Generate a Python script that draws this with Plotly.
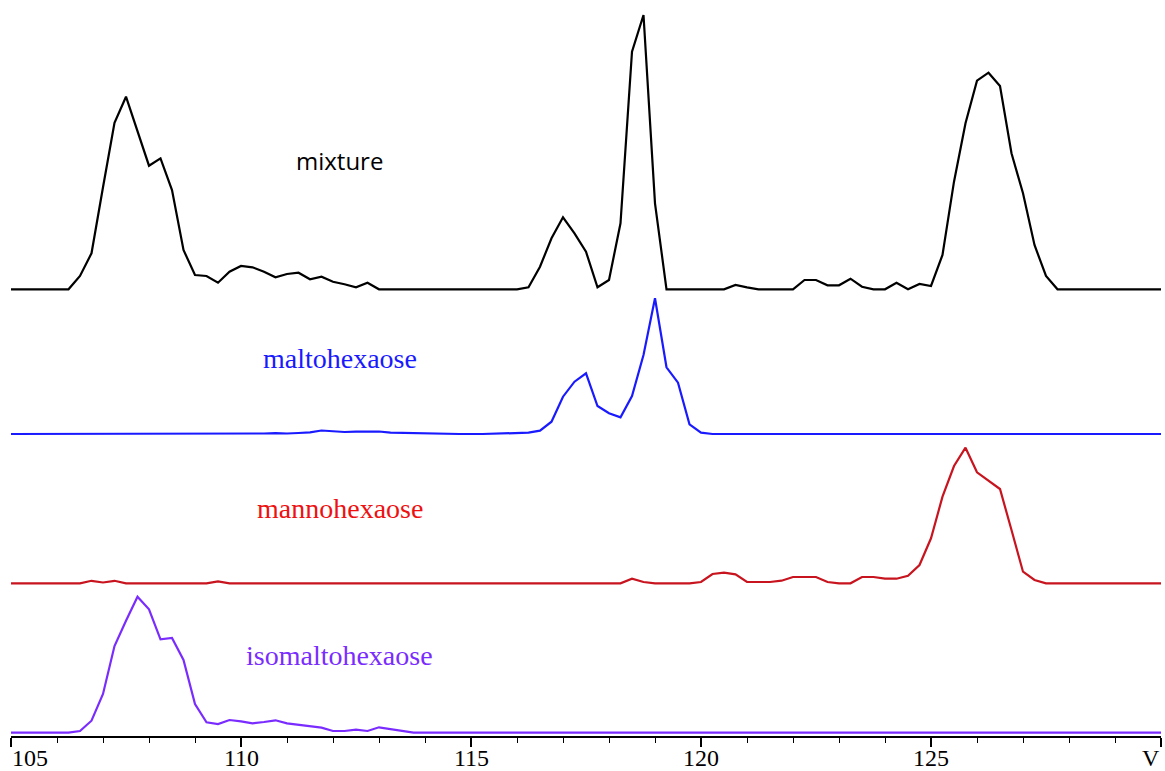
import plotly.graph_objects as go

# ---------------- data ----------------
mixture_x = [105, 106.25, 106.5, 106.75, 107, 107.25, 107.5, 107.75, 108, 108.25, 108.5, 108.75,
             109, 109.25, 109.5, 109.75, 110, 110.25, 110.5, 110.75, 111, 111.25, 111.5, 111.75,
             112, 112.25, 112.5, 112.75, 113, 116, 116.25, 116.5, 116.75, 117, 117.25, 117.5,
             117.75, 118, 118.25, 118.5, 118.75, 119, 119.25, 120.5, 120.75, 121, 121.25, 122,
             122.25, 122.5, 122.75, 123, 123.25, 123.5, 123.75, 124, 124.25, 124.5, 124.75, 125,
             125.25, 125.5, 125.75, 126, 126.25, 126.5, 126.75, 127, 127.25, 127.5, 127.75, 130]
mixture_y = [0, 0, 13.3, 36, 102, 166.6, 192.6, 157.6, 123.6, 131, 99.3, 39.3,
             14.3, 13.3, 6.6, 17.6, 23.3, 22, 17.6, 12, 15.3, 16.6, 10, 12.6,
             7.6, 5, 2, 6.6, 0, 0, 2, 22.6, 51, 72, 56, 37.6,
             2, 9.3, 66, 237.6, 274.3, 86, 0, 0, 4.3, 2, 0, 0,
             9.3, 9.3, 4, 4, 10.6, 2.6, 0, 0, 6.6, 0, 5.3, 3.3,
             34.3, 107.6, 166, 208.6, 216.6, 203.3, 136, 96, 44.3, 13.3, 0, 0]

malto_x = [105, 110, 110.25, 110.5, 110.75, 111, 111.25, 111.5, 111.75, 112, 112.25, 112.5,
           112.75, 113, 113.25, 113.5, 113.75, 114, 114.5, 114.75, 115.25, 115.5, 116, 116.25,
           116.5, 116.75, 117, 117.25, 117.5, 117.75, 118, 118.25, 118.5, 118.75, 119, 119.25,
           119.5, 119.75, 120, 120.25, 130]
malto_y = [0, 0, 0.3, 0.5, 0.8, 0.5, 1, 1.7, 3.5, 2.5, 2, 2.3,
           2.5, 2.5, 1.3, 1, 0.8, 0.7, 0.5, 0, 0, 0.3, 0.5, 1.3,
           3.3, 12.3, 37.3, 52.3, 60.7, 28, 20.7, 16.7, 38, 79, 135.7, 66.7,
           51.3, 9.7, 1.3, 0, 0]

manno_x = [105, 106.5, 106.75, 107, 107.25, 107.5, 109.25, 109.5, 109.75, 118.25, 118.5,
           118.75, 119, 119.75, 120, 120.25, 120.5, 120.75, 121, 121.5, 121.75, 122,
           122.5, 122.75, 123, 123.25, 123.5, 123.75, 124, 124.25, 124.5, 124.75, 125,
           125.25, 125.5, 125.75, 126, 126.25, 126.5, 126.75, 127, 127.25, 127.5, 130]
manno_y = [0, 0, 2.5, 0.8, 2.5, 0, 0, 2, 0, 0, 4.6,
           1.3, 0, 0, 1.3, 9.3, 10.6, 9, 1.3, 1.3, 2.6, 6.3,
           6.3, 1.3, 0, 0, 6.3, 6.3, 4.6, 4.6, 7.6, 18.3, 45,
           86.6, 117.3, 135.6, 111, 102.6, 94.3, 53.3, 11.6, 3.3, 0, 0]

isomalto_x = [105, 106.25, 106.5, 106.75, 107, 107.25, 107.5, 107.75, 108, 108.25, 108.5, 108.75,
              109, 109.25, 109.5, 109.75, 110, 110.25, 110.5, 110.75, 111, 111.25, 111.5, 111.75,
              112, 112.25, 112.5, 112.75, 113, 113.25, 113.5, 113.75, 130]
isomalto_y = [0, 0, 1.7, 12, 38.7, 86.7, 112, 136, 123.4, 93.4, 94.7, 72.7,
              28.7, 10.4, 8.7, 12.7, 11.4, 9.4, 10.7, 12.4, 9.4, 7.7, 6.4, 5,
              1.7, 1.7, 3, 1.7, 5.4, 3.4, 2, 0, 0]

series_names = ["mixture", "maltohexaose", "mannohexaose", "isomaltohexaose"]
tick_values = [105, 110, 115, 120, 125, 130]
tick_labels = ["105", "110", "115", "120", "125", "V"]

# ---------------- layout / style ----------------
W, H = 1165, 771
PLOT_BOTTOM = 736          # pixel row of the x axis
offsets = [446.7, 302, 152.7, 3.3]     # vertical stacking of the traces
colors = ["#000000", "#1a1aff", "#c8141e", "#7a2cff"]
label_colors = ["#000000", "#1a1aff", "#ee1111", "#7a2cff"]
label_fonts = ["Open Sans", "Liberation Serif", "Liberation Serif", "Liberation Serif"]
label_sizes = [24, 28, 28, 28]
label_pos = [(112.15, 576), (112.15, 378), (112.15, 228), (112.15, 81)]

xs = [mixture_x, malto_x, manno_x, isomalto_x]
ys = [mixture_y, malto_y, manno_y, isomalto_y]

fig = go.Figure()
for name, x, y, off, col in zip(series_names, xs, ys, offsets, colors):
    fig.add_trace(go.Scatter(x=x, y=[v + off for v in y], mode="lines", name=name,
                             line=dict(color=col, width=2.2), hoverinfo="skip"))

for name, (lx, ly), col, fnt, sz in zip(series_names, label_pos, label_colors, label_fonts, label_sizes):
    fig.add_annotation(x=lx, y=ly, text=name, showarrow=False, xref="x", yref="y",
                       font=dict(family=fnt, size=sz, color=col))

TICK_FONT = dict(family="Liberation Serif", size=24, color="black")
# tick labels drawn as annotations so they stay fully inside the page
n_ticks = len(tick_values)
for i, (tv, tl) in enumerate(zip(tick_values, tick_labels)):
    anchor = "left" if i == 0 else ("right" if i == n_ticks - 1 else "center")
    shift = -1 if i == 0 else (1 if i == n_ticks - 1 else 0)
    fig.add_annotation(x=tv, y=0, xref="x", yref="paper", text=tl, showarrow=False,
                       xanchor=anchor, yanchor="top", yshift=-7, xshift=shift,
                       font=TICK_FONT)

fig.update_layout(
    width=W, height=H,
    margin=dict(l=11, r=4, t=0, b=H - PLOT_BOTTOM, pad=0, autoexpand=False),
    paper_bgcolor="white", plot_bgcolor="white",
    showlegend=False,
    xaxis=dict(range=[105, 130], showgrid=False, zeroline=False, automargin=False,
               showline=True, linecolor="black", linewidth=2,
               tickvals=tick_values, showticklabels=False,
               ticks="outside", ticklen=9, tickwidth=1.5, tickcolor="black",
               minor=dict(dtick=1, tick0=105, ticks="outside", ticklen=5,
                          tickwidth=1.2, tickcolor="black", showgrid=False)),
    yaxis=dict(range=[0, PLOT_BOTTOM], visible=False, showgrid=False, zeroline=False,
               automargin=False),
)

fig.write_html("out.html")
